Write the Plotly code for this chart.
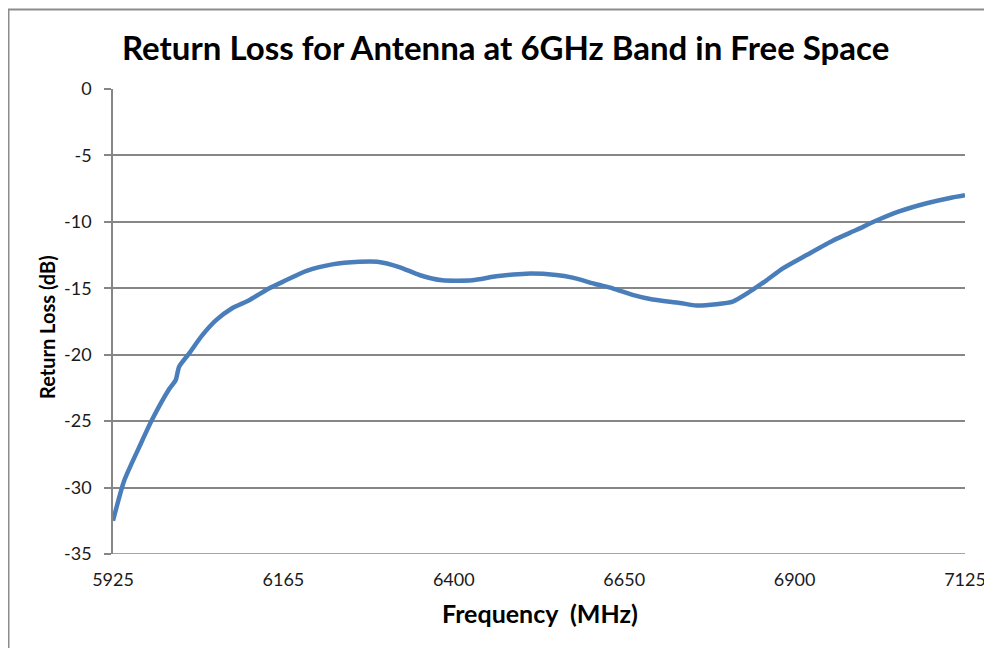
import plotly.graph_objects as go

# Category-axis tick labels (Excel line chart, evenly spaced labels)
freq_labels = ["5925", "6165", "6400", "6650", "6900", "7125"]

# Sample positions along the category axis (in label-interval units, 0 = 5925, 5 = 7125)
pos = [0, 0.065, 0.163, 0.229, 0.329, 0.368, 0.388, 0.447, 0.523, 0.605,
       0.699, 0.799, 0.917, 1.015, 1.132, 1.287, 1.445, 1.551, 1.680, 1.798,
       1.933, 2.109, 2.249, 2.425, 2.601, 2.697, 2.836, 2.932, 3.049, 3.167,
       3.326, 3.424, 3.541, 3.637, 3.737, 3.835, 3.931, 4.070, 4.226, 4.364,
       4.481, 4.618, 4.775, 4.912, 5.0]

# Return loss values (dB)
return_loss = [-32.5, -29.5, -26.7, -24.9, -22.6, -21.9, -20.9, -19.9, -18.55, -17.4,
               -16.5, -15.9, -15.0, -14.4, -13.7, -13.2, -13.0, -13.0, -13.4, -14.0,
               -14.4, -14.4, -14.1, -13.9, -14.0, -14.2, -14.7, -15.0, -15.5, -15.85,
               -16.1, -16.3, -16.2, -16.0, -15.25, -14.4, -13.5, -12.5, -11.4, -10.6,
               -9.9, -9.2, -8.6, -8.2, -8.0]

y_ticks = [0, -5, -10, -15, -20, -25, -30, -35]

W, H = 992, 648
L, R, T, B = 105, 35, 81, 102
PW, PH = W - L - R, H - T - B


def px(xf):
    return (xf - L) / PW


def py(yf):
    return 1 - (yf - T) / PH


fig = go.Figure()
fig.add_trace(go.Scatter(
    x=pos, y=return_loss, mode="lines",
    line=dict(color="#4a7ebb", width=4.5, shape="spline", smoothing=0.6),
    showlegend=False, hoverinfo="skip"))

grid_col = "#868686"
tick_font = dict(size=18, family="Lato, sans-serif", color="#1a1a1a")
fig.update_layout(
    width=W, height=H,
    margin=dict(l=L, r=R, t=T, b=B),
    paper_bgcolor="white", plot_bgcolor="white",
    font=dict(family="Lato, sans-serif", color="#1a1a1a"),
    xaxis=dict(
        range=[0, 5], tickmode="array", tickvals=list(range(len(freq_labels))),
        ticktext=freq_labels, showgrid=False, zeroline=False,
        showline=False, ticks="", tickfont=tick_font,
        ticklabelstandoff=13, fixedrange=True),
    yaxis=dict(
        range=[-35, 0], tickmode="array", tickvals=y_ticks,
        ticktext=[str(v) if v == 0 else "-" + str(-v) for v in y_ticks],
        showgrid=True, gridcolor=grid_col, gridwidth=1.5,
        zeroline=False, showline=True, linecolor=grid_col, linewidth=1.5,
        ticks="outside", ticklen=7, tickcolor=grid_col, tickwidth=1.5,
        tickfont=tick_font, ticklabelstandoff=9, fixedrange=True),
    shapes=[
        dict(type="rect", xref="paper", yref="paper",
             x0=px(0.5), x1=px(W + 20), y0=py(H + 20), y1=py(1.5),
             line=dict(color="#8c8c8c", width=2), fillcolor="rgba(0,0,0,0)", layer="below"),
        dict(type="line", xref="paper", yref="y", x0=0, x1=1, y0=-35, y1=-35,
             line=dict(color=grid_col, width=1.5)),
    ],
    annotations=[
        dict(text="<b>Return Loss for Antenna at 6GHz Band in Free Space</b>",
             xref="paper", yref="paper", x=px(497), y=py(39),
             xanchor="center", yanchor="middle", showarrow=False,
             font=dict(size=33, family="Lato, sans-serif", color="#000000")),
        dict(text="<b>Return Loss (dB)</b>", textangle=-90,
             xref="paper", yref="paper", x=px(39), y=py(319),
             xanchor="center", yanchor="middle", showarrow=False,
             font=dict(size=20, family="Lato, sans-serif", color="#000000")),
        dict(text="<b>Frequency  (MHz)</b>",
             xref="paper", yref="paper", x=px(532), y=py(605),
             xanchor="center", yanchor="middle", showarrow=False,
             font=dict(size=25, family="Lato, sans-serif", color="#000000")),
    ],
)

fig.write_html("out.html")
